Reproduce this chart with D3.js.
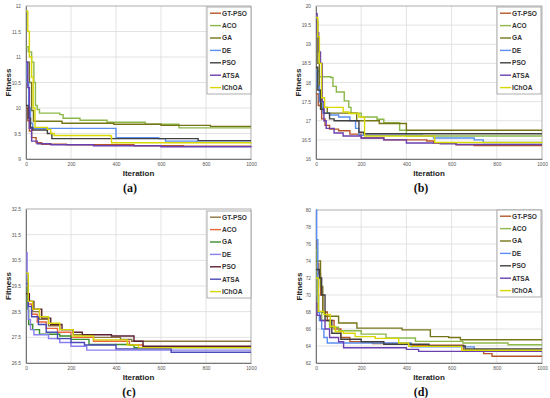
<!DOCTYPE html>
<html>
<head>
<meta charset="utf-8">
<script src="https://cdn.jsdelivr.net/npm/d3@7"></script>
<style>
  body { margin: 0; background: #fff; }
  svg { display: block; }
</style>
</head>
<body>
<div id="chart"></div>
<script>
// Convergence curves, four test cases

const algorithms = ["GT-PSO", "ACO", "GA", "DE", "PSO", "ATSA", "IChOA"];
const iterTicks = [0, 200, 400, 600, 800, 1000];

const aTicks = [9, 9.5, 10, 10.5, 11, 11.5, 12];
const bTicks = [16, 16.5, 17, 17.5, 18, 18.5, 19, 19.5, 20];
const cTicks = [26.5, 27.5, 28.5, 29.5, 30.5, 31.5, 32.5];
const dTicks = [62, 64, 66, 68, 70, 72, 74, 76, 78, 80];

// (a)  [iteration, fitness] breakpoints
const aGTPSO = [[0,10.0],[8,9.75],[15,9.55],[25,9.42],[45,9.32],[70,9.29],[180,9.28],[480,9.26],[700,9.25],[1000,9.25]];
const aACO   = [[0,11.2],[10,11.1],[25,10.9],[35,10.5],[42,10.05],[50,9.97],[60,9.9],[150,9.87],[165,9.8],[240,9.76],[360,9.72],[530,9.68],[680,9.61],[1000,9.61]];
const aGA    = [[0,10.9],[15,10.5],[25,9.95],[33,9.74],[145,9.74],[160,9.7],[390,9.68],[600,9.66],[820,9.64],[1000,9.64]];
const aDE    = [[0,10.9],[5,10.5],[12,10.0],[20,9.7],[30,9.6],[395,9.6],[400,9.42],[590,9.4],[620,9.35],[760,9.33],[1000,9.33]];
const aPSO   = [[0,10.05],[10,9.8],[20,9.62],[30,9.57],[95,9.5],[115,9.4],[760,9.4],[765,9.36],[1000,9.36]];
const aATSA  = [[0,10.9],[8,10.4],[15,9.6],[25,9.35],[50,9.3],[110,9.28],[300,9.26],[600,9.24],[1000,9.23]];
const aIChOA = [[0,11.9],[8,11.5],[15,11.0],[25,10.6],[32,10.0],[40,9.62],[95,9.58],[110,9.5],[125,9.46],[375,9.45],[380,9.32],[1000,9.31]];

// (b)
const bGTPSO = [[0,17.7],[10,17.4],[25,17.05],[40,16.88],[60,16.78],[100,16.74],[150,16.65],[200,16.55],[300,16.5],[490,16.47],[520,16.42],[620,16.37],[700,16.35],[1000,16.35]];
const bACO   = [[0,18.3],[15,18.15],[65,18.13],[75,17.9],[90,17.75],[125,17.52],[145,17.35],[155,17.2],[200,17.1],[270,17.04],[300,16.95],[370,16.75],[400,16.6],[1000,16.6]];
const bGA    = [[0,19.6],[8,18.5],[15,17.8],[25,17.35],[50,17.2],[180,17.0],[280,16.93],[400,16.75],[1000,16.75]];
const bDE    = [[0,18.3],[5,17.9],[15,17.5],[30,17.2],[60,17.15],[100,17.1],[150,17.0],[175,16.8],[190,16.62],[470,16.6],[520,16.55],[700,16.5],[740,16.43],[1000,16.43]];
const bPSO   = [[0,18.4],[8,17.8],[20,17.3],[35,17.2],[60,17.05],[80,17.0],[180,17.0],[190,16.7],[210,16.66],[1000,16.66]];
const bATSA  = [[0,19.8],[5,19.3],[12,18.8],[20,18.5],[28,17.5],[35,17.0],[45,16.8],[80,16.68],[120,16.6],[200,16.55],[300,16.5],[400,16.42],[550,16.4],[620,16.38],[1000,16.38]];
const bIChOA = [[0,19.7],[8,19.2],[15,18.5],[25,17.6],[38,17.35],[115,17.35],[120,17.23],[145,17.19],[190,17.1],[215,16.6],[515,16.6],[525,16.43],[1000,16.42]];

// (c)
const cGTPSO = [[0,29.8],[10,28.9],[30,28.5],[60,28.2],[100,27.95],[150,27.8],[210,27.6],[300,27.5],[420,27.42],[470,27.35],[1000,27.35]];
const cACO   = [[0,29.5],[8,28.8],[25,28.4],[50,28.1],[90,27.85],[140,27.7],[200,27.5],[300,27.35],[460,27.2],[520,27.12],[1000,27.12]];
const cGA    = [[0,29.8],[5,28.6],[12,28.0],[30,27.8],[60,27.62],[150,27.55],[200,27.42],[280,27.22],[460,27.2],[480,27.1],[1000,27.1]];
const cDE    = [[0,30.8],[5,29.5],[10,28.2],[20,27.8],[35,27.6],[100,27.45],[150,27.3],[200,27.15],[270,27.0],[1000,27.0]];
const cPSO   = [[0,29.2],[15,28.9],[35,28.6],[70,28.25],[110,28.0],[160,27.8],[210,27.7],[250,27.6],[380,27.55],[480,27.35],[520,27.15],[1000,27.15]];
const cATSA  = [[0,29.6],[10,28.7],[25,28.3],[55,28.0],[90,27.7],[140,27.45],[200,27.3],[260,27.2],[400,27.05],[645,26.92],[1000,26.92]];
const cIChOA = [[0,30.0],[10,28.9],[30,28.6],[60,28.3],[100,28.05],[150,27.8],[210,27.55],[300,27.4],[450,27.2],[500,27.1],[1000,27.1]];

// (d)
const dGTPSO = [[0,73.7],[12,72.5],[20,70.0],[30,68.0],[50,67.0],[80,66.0],[110,65.0],[150,64.5],[250,64.3],[420,64.08],[653,63.5],[742,63.1],[779,62.8],[1000,62.8]];
const dACO   = [[0,75.3],[5,70.0],[12,68.0],[25,67.0],[60,66.2],[100,65.8],[200,65.4],[310,64.94],[440,64.55],[650,64.35],[850,64.15],[1000,64.15]];
const dGA    = [[0,74.0],[20,71.0],[30,68.0],[41,67.5],[100,66.7],[181,66.1],[381,65.9],[506,65.1],[587,65.0],[639,64.74],[1000,64.74]];
const dDE    = [[0,80.0],[3,76.5],[8,68.0],[15,67.0],[25,66.0],[35,65.0],[50,64.35],[410,64.35],[420,63.9],[700,63.5],[1000,63.5]];
const dPSO   = [[0,73.0],[15,72.0],[25,70.0],[40,67.0],[70,65.5],[110,64.8],[200,64.5],[300,64.2],[500,64.0],[660,63.65],[1000,63.65]];
const dATSA  = [[0,69.0],[5,67.6],[20,67.0],[40,66.0],[60,65.0],[100,64.5],[122,63.8],[400,63.6],[454,63.37],[1000,63.37]];
const dIChOA = [[0,72.0],[10,68.07],[35,67.7],[63,66.3],[85,65.7],[122,65.5],[173,65.1],[262,64.9],[366,64.35],[410,63.96],[645,63.5],[1000,63.5]];

// colours per panel
const palette = ["#b5562a", "#8cb84a", "#767618", "#5a8ef0", "#404040", "#6a3fb0", "#d8d800"];
const paletteC = ["#8b7340", "#e8663a", "#3a8f2a", "#8a7ff0", "#5a2030", "#4a4ab8", "#d4d400"];

const W = 550, H = 398;
const svg = d3.select("#chart").append("svg")
    .attr("width", W)
    .attr("height", H)
    .attr("viewBox", [0, 0, W, H]);

function panel(p) {
  const x = d3.scaleLinear()
      .domain([0, 1000])
      .range([p.x0, p.x1]);
  const y = d3.scaleLinear()
      .domain([p.ticks[0], p.ticks[p.ticks.length - 1]])
      .range([p.y1, p.y0]);

  const g = svg.append("g");

  // grid
  g.append("g")
    .selectAll("line")
    .data(iterTicks.slice(1, -1))
    .join("line")
      .attr("x1", d => x(d)).attr("x2", d => x(d))
      .attr("y1", p.y0).attr("y2", p.y1)
      .attr("stroke", "#dcdcdc").attr("stroke-width", 0.8);
  g.append("g")
    .selectAll("line")
    .data(p.ticks.slice(1, -1))
    .join("line")
      .attr("x1", p.x0).attr("x2", p.x1)
      .attr("y1", d => y(d)).attr("y2", d => y(d))
      .attr("stroke", "#dcdcdc").attr("stroke-width", 0.8);

  // plot frame
  g.append("rect")
      .attr("x", p.x0).attr("y", p.y0)
      .attr("width", p.x1 - p.x0).attr("height", p.y1 - p.y0)
      .attr("fill", "none")
      .attr("stroke", "#9a9a9a")
      .attr("stroke-width", 0.8);

  // axes
  g.append("g")
      .attr("transform", "translate(0," + p.y1 + ")")
      .call(d3.axisBottom(x).tickValues(iterTicks).tickSize(0).tickPadding(4).tickFormat(d => d))
      .call(a => a.select(".domain").attr("stroke", "#777"))
      .call(a => a.selectAll("text").attr("font-size", 4.8).attr("fill", "#555").attr("font-family", "Liberation Sans, Arial, sans-serif"));
  g.append("g")
      .attr("transform", "translate(" + p.x0 + ",0)")
      .call(d3.axisLeft(y).tickValues(p.ticks).tickSize(0).tickPadding(5).tickFormat(d => d))
      .call(a => a.select(".domain").attr("stroke", "#777"))
      .call(a => a.selectAll("text").attr("font-size", 4.8).attr("fill", "#555").attr("font-family", "Liberation Sans, Arial, sans-serif"));

  // series
  const line = d3.line()
      .x(d => x(d[0]))
      .y(d => y(d[1]))
      .curve(d3.curveStepAfter);

  g.append("g")
      .attr("fill", "none")
      .attr("stroke-width", 1.4)
    .selectAll("path")
    .data(p.series)
    .join("path")
      .attr("stroke", (d, i) => p.colors[i])
      .attr("d", d => line(d));

  // axis titles
  g.append("text")
      .attr("transform", "translate(" + p.fx + "," + ((p.y0 + p.y1) / 2) + ") rotate(-90)")
      .attr("text-anchor", "middle")
      .attr("dy", "0.35em")
      .attr("font-family", "Liberation Sans, Arial, sans-serif")
      .attr("font-weight", "bold")
      .attr("font-size", 8)
      .attr("fill", "#222")
      .text("Fitness");
  g.append("text")
      .attr("x", (p.x0 + p.x1) / 2)
      .attr("y", p.y1 + 17)
      .attr("text-anchor", "middle")
      .attr("font-family", "Liberation Sans, Arial, sans-serif")
      .attr("font-weight", "bold")
      .attr("font-size", 8)
      .attr("fill", "#222")
      .text("Iteration");
  g.append("text")
      .attr("x", p.lx)
      .attr("y", p.y1 + 33)
      .attr("text-anchor", "middle")
      .attr("font-family", "Liberation Serif, Times New Roman, serif")
      .attr("font-weight", "bold")
      .attr("font-size", 12)
      .attr("fill", "#111")
      .text(p.label);

  // legend
  const lg = g.append("g")
      .attr("transform", "translate(" + p.legX + "," + p.legY + ")");
  lg.append("rect")
      .attr("width", 44).attr("height", 87)
      .attr("fill", "#fff")
      .attr("stroke", "#9a9a9a")
      .attr("stroke-width", 0.8);
  const item = lg.selectAll("g.item")
    .data(algorithms)
    .join("g")
      .attr("class", "item")
      .attr("transform", (d, i) => "translate(0," + (6.2 + i * 12.4) + ")");
  item.append("line")
      .attr("x1", 3).attr("x2", 14)
      .attr("stroke", (d, i) => p.colors[i])
      .attr("stroke-width", 1.4);
  item.append("text")
      .attr("x", 15)
      .attr("dy", "0.35em")
      .attr("font-family", "Liberation Sans, Arial, sans-serif")
      .attr("font-weight", "bold")
      .attr("font-size", 6.6)
      .attr("fill", "#333")
      .text(d => d);
}

panel({ x0: 26, x1: 251, y0: 6, y1: 159, ticks: aTicks, fx: 8, lx: 130, label: "(a)",
        legX: 207, legY: 7, colors: palette,
        series: [aGTPSO, aACO, aGA, aDE, aPSO, aATSA, aIChOA] });
panel({ x0: 316, x1: 542, y0: 6, y1: 159, ticks: bTicks, fx: 298, lx: 421, label: "(b)",
        legX: 497, legY: 7, colors: palette,
        series: [bGTPSO, bACO, bGA, bDE, bPSO, bATSA, bIChOA] });
panel({ x0: 26, x1: 251, y0: 209, y1: 363, ticks: cTicks, fx: 8, lx: 129, label: "(c)",
        legX: 207, legY: 211, colors: paletteC,
        series: [cGTPSO, cACO, cGA, cDE, cPSO, cATSA, cIChOA] });
panel({ x0: 316, x1: 542, y0: 210, y1: 363, ticks: dTicks, fx: 299, lx: 421, label: "(d)",
        legX: 497, legY: 210, colors: palette,
        series: [dGTPSO, dACO, dGA, dDE, dPSO, dATSA, dIChOA] });
</script>
</body>
</html>
